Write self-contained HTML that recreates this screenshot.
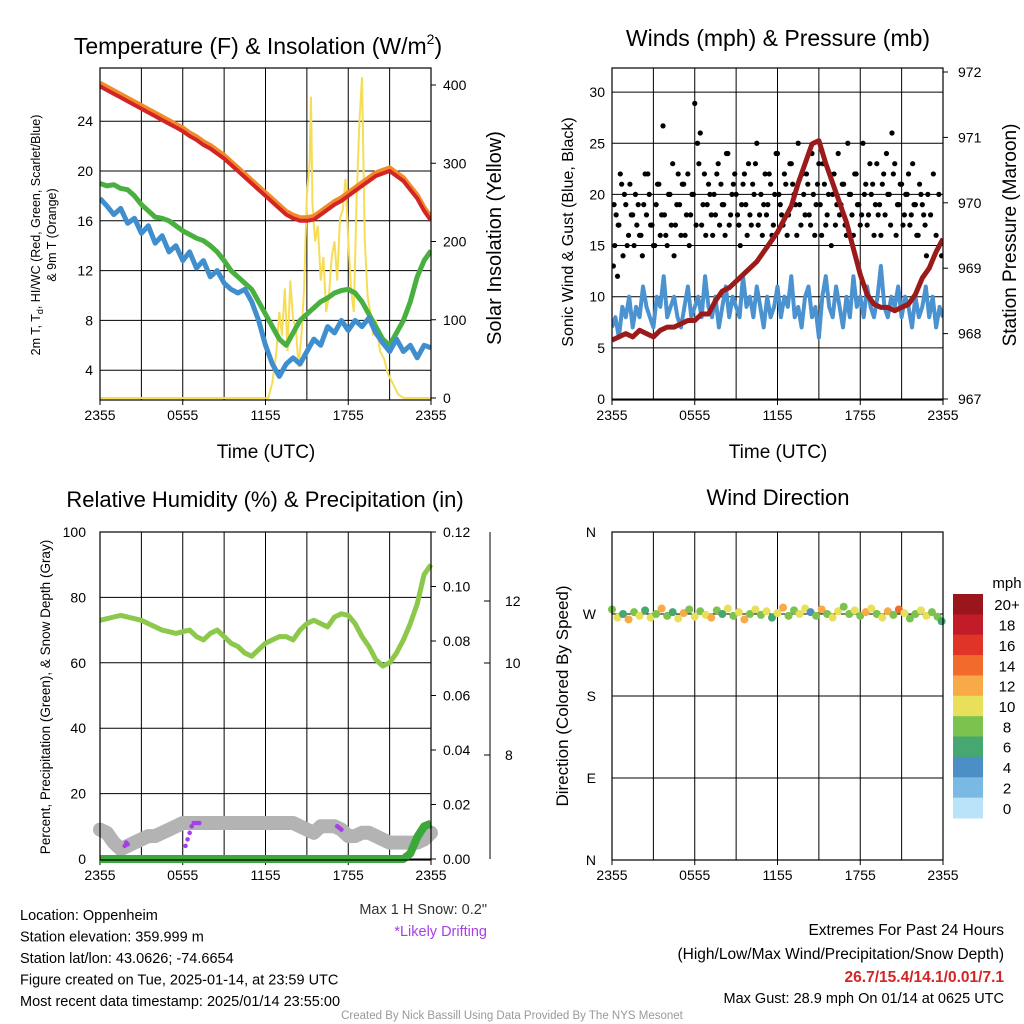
<!DOCTYPE html>
<html><head><meta charset="utf-8"><style>
body{margin:0;background:#fff}
svg{font-family:"Liberation Sans",Arial,sans-serif;display:block}
</style></head><body>
<svg id="c" width="1024" height="1024" viewBox="0 0 1024 1024">
<rect width="1024" height="1024" fill="#fff"/>
</svg>
<script>
// ---------- data ----------
const timeLabels=['2355','0555','1155','1755','2355'];
const tempRed=[26.8,26.5,26.2,25.9,25.6,25.3,25.0,24.7,24.4,24.1,23.8,23.5,23.2,22.8,22.5,22.1,21.8,21.4,21.0,20.5,20.0,19.5,19.0,18.5,18.0,17.5,17.0,16.5,16.2,16.0,16.0,16.1,16.5,16.9,17.3,17.6,18.0,18.4,18.8,19.2,19.6,19.8,20.0,19.6,19.2,18.5,17.8,16.8,16.0];
const tempGreen=[19,18.8,18.9,18.6,18.5,18.0,17.3,16.8,16.3,16.2,16.0,15.6,15.2,14.9,14.6,14.4,14.0,13.5,12.8,12.0,11.5,11.0,10.5,9.5,8.5,7.5,6.5,6.0,7.0,8.0,8.5,9.0,9.5,9.8,10.2,10.4,10.5,10.2,9.5,8.5,7.5,6.5,6.0,7.0,8.0,9.5,11.5,12.8,13.6];
const tempBlue=[17.8,17.2,16.5,17.0,15.8,16.2,15.0,15.6,14.2,14.8,13.5,14.0,12.8,13.5,12.2,12.8,11.5,12.0,11.0,10.5,10.2,10.5,9.5,8.0,6.0,4.5,3.5,4.5,5.0,4.5,5.5,6.5,6.0,7.5,7.0,8.0,7.2,8.0,7.5,8.2,7.0,6.2,5.5,6.5,5.5,6.0,5.0,6.0,5.8];
const solarHours=[0,12.2,12.5,12.8,13.0,13.2,13.4,13.6,13.8,14.0,14.2,14.4,14.6,14.8,15.0,15.2,15.3,15.4,15.6,15.8,16.0,16.2,16.4,16.6,16.8,17.0,17.2,17.4,17.6,17.8,18.0,18.2,18.4,18.6,18.8,19.0,19.2,19.4,19.6,19.8,20.0,20.3,20.6,20.9,21.2,21.6,22.0,24];
const solarVals=[0,0,20,60,110,80,140,60,150,100,90,40,80,140,260,300,385,250,200,220,150,180,110,130,180,200,150,230,240,280,200,140,110,250,350,410,200,130,110,80,100,60,50,30,20,5,0,0];
const tempTicks=[4,8,12,16,20,24];
const solarTicks=[0,100,200,300,400];

const windVals=[7,8,6,9,8,10,7,9,8,11,9,8,7,10,9,12,8,9,10,8,7,9,11,8,9,10,8,12,9,8,10,7,9,11,8,10,9,8,12,9,10,8,11,9,7,10,8,9,11,8,10,9,12,8,9,7,10,11,8,9,6,10,12,9,8,11,9,7,10,8,12,9,10,8,11,9,8,10,13,9,8,10,9,11,8,10,9,7,10,8,9,11,8,10,7,9,8];
const pressVals=[967.9,967.95,968.0,967.95,968.05,968.0,967.95,968.05,968.1,968.1,968.15,968.2,968.2,968.3,968.3,968.5,968.65,968.7,968.8,968.9,969.0,969.1,969.25,969.4,969.55,969.75,969.95,970.3,970.6,970.9,970.95,970.6,970.3,970.0,969.7,969.3,968.9,968.6,968.45,968.4,968.4,968.35,968.4,968.45,968.6,968.85,969.0,969.25,969.45];
const gustHours=[0.1,0.2,0.3,0.4,0.5,0.6,0.8,0.9,1.0,1.2,1.3,1.5,1.6,1.8,1.9,2.1,2.2,2.4,2.5,2.7,2.9,3.0,3.2,3.3,3.5,3.7,3.8,4.0,4.2,4.3,4.5,4.7,4.8,5.0,5.2,5.4,5.6,5.8,6.0,6.2,6.4,6.5,6.7,6.9,7.1,7.3,7.5,7.7,7.9,8.1,8.3,8.5,8.7,8.9,9.1,9.3,9.5,9.7,9.9,10.1,10.3,10.5,10.7,10.9,11.1,11.3,11.5,11.7,11.9,12.1,12.3,12.5,12.7,12.9,13.1,13.3,13.5,13.7,13.9,14.1,14.3,14.5,14.7,14.9,15.1,15.3,15.5,15.7,15.9,16.1,16.3,16.5,16.7,16.9,17.1,17.3,17.5,17.7,17.9,18.1,18.3,18.5,18.7,18.9,19.1,19.3,19.5,19.7,19.9,20.1,20.3,20.5,20.7,20.9,21.1,21.3,21.5,21.7,21.9,22.1,22.3,22.5,22.7,22.9,23.1,23.3,23.5,23.7,23.9,
0.15,0.45,0.7,1.1,1.4,1.7,2.0,2.3,2.6,2.8,3.1,3.4,3.6,3.9,4.1,4.4,4.6,4.9,5.1,5.3,5.5,5.7,5.9,6.1,6.3,6.6,6.8,7.0,7.2,7.4,7.6,7.8,8.0,8.2,8.4,8.6,8.8,9.0,9.2,9.4,9.6,9.8,10.0,10.2,10.4,10.6,10.8,11.0,11.2,11.4,11.6,11.8,12.0,12.2,12.4,12.6,12.8,13.0,13.2,13.4,13.6,13.8,14.0,14.2,14.4,14.6,14.8,15.0,15.2,15.4,15.6,15.8,16.0,16.2,16.4,16.6,16.8,17.0,17.2,17.4,17.6,17.8,18.0,18.2,18.4,18.6,18.8,19.0,19.2,19.4,19.6,19.8,20.0,20.2,20.4,20.6,20.8,21.0,21.2,21.4,21.6,21.8,22.0,22.2,22.4,22.6,22.8,23.0,23.2,23.4,23.6,23.8];
const gustVals=[13,15,18,12,17,22,14,20,19,16,21,18,15,17,19,16,14,22,18,20,17,15,19,21,16,26.7,18,15,20,17,14,19,22,16,21,18,15,20,28.9,25,26,17,22,19,20,16,18,23,21,19,24,17,20,22,18,15,21,19,23,17,20,25,18,16,22,19,21,17,24,20,18,22,16,23,21,19,25,17,20,22,18,24,16,21,19,23,17,20,15,22,19,18,21,17,25,20,16,22,19,18,20,17,23,21,19,18,16,22,24,20,26,23,19,21,17,20,22,18,19,16,21,19,17,20,18,22,
16,20,14,19,17,21,15,18,20,16,19,22,17,15,21,18,16,20,23,17,19,21,16,22,18,20,17,23,19,16,21,18,20,22,17,19,16,24,18,21,20,17,19,22,16,18,21,23,17,20,19,18,22,16,20,24,19,17,21,18,23,20,16,19,22,18,21,17,20,19,23,16,21,18,22,20,17,24,19,21,16,20,18,22,19,17,25,21,18,20,16,23,19,21,18,20,17,22,16,19,21,18,20,17,23,19,16,20,18,14];
const windTicks=[0,5,10,15,20,25,30];
const pressTicks=[967,968,969,970,971,972];

const rhVals=[73,73.5,74,74.5,74,73.5,73,72,71,70,69.5,69,69.5,70,68,67,69,70,68,66,65,63,62,64,66,67,68,68,67,70,72,73,72,71,74,75,74.5,72,68,65,61,59,60,63,67,72,78,87,90];
const snowVals=[9,8,5,3,4,5,6,7,7,8,9,10,11,11,11,11,11,11,11,11,11,11,11,11,11,11,11,11,11,10,9,8,10,10,10,9,7,7,8,8,7,6,5,5,5,5,5,6,8];
const precipVals=[0,0,0,0,0,0,0,0,0,0,0,0,0,0,0,0,0,0,0,0,0,0,0,0,0,0,0,0,0,0,0,0,0,0,0,0,0,0,0,0,0,0,0,0,0,0.002,0.008,0.012,0.013];
const driftHours=[1.8,1.9,2.0,6.2,6.35,6.5,6.65,6.8,7.0,7.2,17.2,17.35,17.5];
const driftVals=[4,5,4.5,4,6,8,10,11,11,11,10,9.5,9];
const rhTicks=[0,20,40,60,80,100];
const precipTicks=[0,0.02,0.04,0.06,0.08,0.10,0.12];
const snowTickLabels=['8','10','12'];

const dirHours=[0,0.4,0.8,1.2,1.6,2.0,2.4,2.8,3.2,3.6,4.0,4.4,4.8,5.2,5.6,6.0,6.4,6.8,7.2,7.6,8.0,8.4,8.8,9.2,9.6,10.0,10.4,10.8,11.2,11.6,12.0,12.4,12.8,13.2,13.6,14.0,14.4,14.8,15.2,15.6,16.0,16.4,16.8,17.2,17.6,18.0,18.4,18.8,19.2,19.6,20.0,20.4,20.8,21.2,21.6,22.0,22.4,22.8,23.2,23.6,23.9];
const dirVals=[275,266,270,264,272,268,274,266,270,276,268,272,265,271,275,267,273,269,266,274,270,276,268,272,264,270,275,269,273,266,271,277,268,274,270,276,272,268,275,270,266,273,278,270,274,268,272,276,270,266,273,269,275,271,265,270,274,268,272,267,262];
const dirSpeeds=[8,10,7,12,9,11,6,10,8,13,9,7,10,12,8,11,9,10,13,8,7,11,9,10,12,8,10,9,11,7,10,12,9,8,11,10,4,9,12,8,10,11,9,8,10,9,12,11,8,10,13,9,14,10,8,9,11,10,8,9,7];
const dirLabels=['N','E','S','W','N'];
const cbLabels=['20+','18','16','14','12','10','8','6','4','2','0'];
const cbColors=['#9a161d','#c11c27','#e03428','#f26a2c','#f9aa48','#e8e05a','#7cc24e','#47a771','#4b8fc6','#7ab9e4','#b8e3f8'];

// ---------- helpers ----------
const svg=document.getElementById('c');
const NS='http://www.w3.org/2000/svg';
function mk(tag,attrs,parent){const e=document.createElementNS(NS,tag);for(const k in attrs)e.setAttribute(k,attrs[k]);(parent||svg).appendChild(e);return e;}
function txt(s,x,y,size,anchor,extra){const t=mk('text',Object.assign({x:x,y:y,'font-size':size,'text-anchor':anchor||'middle',fill:'#000'},extra||{}));t.textContent=s;return t;}
function pathFrom(vals,xf,yf){let d='';const n=vals.length;for(let i=0;i<n;i++){d+=(i?'L':'M')+xf(i*24/(n-1)).toFixed(1)+' '+yf(vals[i]).toFixed(1);}return d;}
function pathXY(hs,vs,xf,yf){let d='';const n=Math.min(hs.length,vs.length);for(let i=0;i<n;i++){d+=(i?'L':'M')+xf(hs[i]).toFixed(1)+' '+yf(vs[i]).toFixed(1);}return d;}
function frame(x0,y0,x1,y1,xf,name){
  const g=mk('g',{});
  for(let h=3;h<24;h+=3)mk('line',{x1:xf(h),x2:xf(h),y1:y0,y2:y1,stroke:'#000','stroke-width':1},g);
  const tg=mk('g',{});
  timeLabels.forEach((l,i)=>{const h=i*6;const t=txt(l,xf(h),y1+20,14,'middle');tg.appendChild(t);mk('line',{x1:xf(h),x2:xf(h),y1:y1,y2:y1+5,stroke:'#000'},tg);});
}
function box(x0,y0,x1,y1,name){const r=mk('rect',{x:x0,y:y0,width:x1-x0,height:y1-y0,fill:'none',stroke:'#000','stroke-width':1.2});}

// ---------- panel 1 ----------
{
const X0=100,X1=431,Y0=68,Y1=400;
const xs=h=>X0+h*(X1-X0)/24, yT=t=>420-12.45*t, yI=v=>398-v*0.7825;
frame(X0,Y0,X1,Y1,xs,'temp-panel');
tempTicks.forEach(t=>{mk('line',{x1:X0,x2:X1,y1:yT(t),y2:yT(t),stroke:'#000'});const e=txt(String(t),93,yT(t)+5,14,'end');});
solarTicks.forEach(v=>{mk('line',{x1:X1,x2:X1+5,y1:yI(v),y2:yI(v),stroke:'#000'});const e=txt(String(v),443,yI(v)+5,14,'start');});
const cp=mk('clipPath',{id:'cp1'});mk('rect',{x:X0,y:Y0,width:X1-X0,height:Y1-Y0},cp);
const g=mk('g',{'clip-path':'url(#cp1)'});
let p;
p=mk('path',{d:pathXY(solarHours,solarVals,xs,yI),fill:'none',stroke:'#f7dd55','stroke-width':2},g);
p=mk('path',{d:pathFrom(tempGreen,xs,yT),fill:'none',stroke:'#49b040','stroke-width':5,'stroke-linejoin':'round'},g);
p=mk('path',{d:pathFrom(tempBlue,xs,yT),fill:'none',stroke:'#3f8fcf','stroke-width':5,'stroke-linejoin':'round'},g);
p=mk('path',{d:pathFrom(tempRed.map(v=>v+0.25),xs,yT),fill:'none',stroke:'#f28a2a','stroke-width':5},g);
p=mk('path',{d:pathFrom(tempRed,xs,yT),fill:'none',stroke:'#d42525','stroke-width':4},g);
box(X0,Y0,X1,Y1,'temp-panel');
let t=txt('Temperature (F) & Insolation (W/m',258,54,23,'middle');
const ts=mk('tspan',{'font-size':14,dy:-10},t);ts.textContent='2';const ts2=mk('tspan',{dy:10},t);ts2.textContent=')';
t=txt('Time (UTC)',266,458,19);
t=txt('2m T, T',0,0,12.5,'middle',{transform:'translate(40,235) rotate(-90)'});
const sub=mk('tspan',{'font-size':9,dy:3},t);sub.textContent='d';const r2=mk('tspan',{dy:-3},t);r2.textContent=', HI/WC (Red, Green, Scarlet/Blue)';
t=txt('& 9m T (Orange)',0,0,12.5,'middle',{transform:'translate(56,235) rotate(-90)'});
t=txt('Solar Insolation (Yellow)',0,0,20,'middle',{transform:'translate(501,238) rotate(-90)'});
}

// ---------- panel 2 ----------
{
const X0=612,X1=943,Y0=68,Y1=400;
const xs=h=>X0+h*(X1-X0)/24, yW=v=>399-v*10.23, yP=p=>399-(p-967)*65.4;
frame(X0,Y0,X1,Y1,xs,'wind-panel');
windTicks.forEach(v=>{mk('line',{x1:X0,x2:X1,y1:yW(v),y2:yW(v),stroke:'#000'});const e=txt(String(v),605,yW(v)+5,14,'end');});
pressTicks.forEach(v=>{mk('line',{x1:X1,x2:X1+5,y1:yP(v),y2:yP(v),stroke:'#000'});const e=txt(String(v),958,yP(v)+5,14,'start');});
const cp=mk('clipPath',{id:'cp2'});mk('rect',{x:X0,y:Y0,width:X1-X0,height:Y1-Y0},cp);
const g=mk('g',{'clip-path':'url(#cp2)'});
let p=mk('path',{d:pathFrom(windVals,xs,yW),fill:'none',stroke:'#4a92d0','stroke-width':4,'stroke-linejoin':'round'},g);
const n=Math.min(gustHours.length,gustVals.length);
for(let i=0;i<n;i++){const c=mk('circle',{cx:xs(gustHours[i]),cy:yW(gustVals[i]),r:2.6,fill:'#000'},g);

}
p=mk('path',{d:pathFrom(pressVals,xs,yP),fill:'none',stroke:'#9b1b1b','stroke-width':5,'stroke-linejoin':'round'},g);
box(X0,Y0,X1,Y1,'wind-panel');
let t=txt('Winds (mph) & Pressure (mb)',778,46,23);
t=txt('Time (UTC)',778,458,19);
t=txt('Sonic Wind & Gust (Blue, Black)',0,0,16,'middle',{transform:'translate(573,232) rotate(-90)'});
t=txt('Station Pressure (Maroon)',0,0,19,'middle',{transform:'translate(1016,235) rotate(-90)'});
}

// ---------- panel 3 ----------
{
const X0=100,X1=431,Y0=532,Y1=860;
const xs=h=>X0+h*(X1-X0)/24, yR=v=>859-v*3.27, yPr=v=>859-v/0.12*327;
frame(X0,Y0,X1,Y1,xs,'rh-panel');
rhTicks.forEach(v=>{mk('line',{x1:X0,x2:X1,y1:yR(v),y2:yR(v),stroke:'#000'});const e=txt(String(v),86,yR(v)+5,14,'end');});
precipTicks.forEach(v=>{mk('line',{x1:X1,x2:X1+5,y1:yPr(v),y2:yPr(v),stroke:'#000'});const e=txt(v.toFixed(2),443,yPr(v)+5,14,'start');});
mk('line',{x1:490,x2:490,y1:532,y2:859,stroke:'#000'});
const snowY=[755,663,601];
snowTickLabels.forEach((l,i)=>{mk('line',{x1:484,x2:490,y1:snowY[i],y2:snowY[i],stroke:'#000'});const e=txt(l,505,snowY[i]+5,14,'start');});
const cp=mk('clipPath',{id:'cp3'});mk('rect',{x:X0-8,y:Y0,width:X1-X0+16,height:Y1-Y0+8},cp);
const g=mk('g',{'clip-path':'url(#cp3)'});
let p=mk('path',{d:pathFrom(snowVals,xs,yR),fill:'none',stroke:'#b3b3b3','stroke-width':14,'stroke-linejoin':'round','stroke-linecap':'round'},g);
p=mk('path',{d:pathFrom(rhVals,xs,yR),fill:'none',stroke:'#8cc84b','stroke-width':5,'stroke-linejoin':'round'},g);
p=mk('path',{d:pathFrom(precipVals,xs,yPr),fill:'none',stroke:'#3aa83a','stroke-width':8,'stroke-linejoin':'round'},g);
for(let i=0;i<Math.min(driftHours.length,driftVals.length);i++){const c=mk('circle',{cx:xs(driftHours[i]),cy:yR(driftVals[i]),r:2.3,fill:'#a83ee8'},g);

}
box(X0,Y0,X1,Y1,'rh-panel');
let t=txt('Relative Humidity (%) & Precipitation (in)',265,507,22);
t=txt('Percent, Precipitation (Green), & Snow Depth (Gray)',0,0,13.5,'middle',{transform:'translate(50,697) rotate(-90)'});
}

// ---------- panel 4 ----------
{
const X0=612,X1=943,Y0=532,Y1=860;
const xs=h=>X0+h*(X1-X0)/24, yD=d=>860-d*(328/360);
frame(X0,Y0,X1,Y1,xs,'direction-panel');
dirLabels.forEach((l,i)=>{const y=yD(i*90);mk('line',{x1:X0,x2:X1,y1:y,y2:y,stroke:'#000'});const e=txt(l,596,y+5,14,'end');});
const colorFor=s=>cbColors[10-Math.min(10,Math.floor(s/2))];
const n=Math.min(dirHours.length,dirVals.length,dirSpeeds.length);
for(let i=0;i<n;i++){const c=mk('circle',{cx:xs(dirHours[i]),cy:yD(dirVals[i]),r:4,fill:colorFor(dirSpeeds[i])});

}
box(X0,Y0,X1,Y1,'direction-panel');
let t=txt('Wind Direction',778,505,22);
t=txt('Direction (Colored By Speed)',0,0,17,'middle',{transform:'translate(568,696) rotate(-90)'});
const cg=mk('g',{});
const bh=224/11;
cbColors.forEach((c,i)=>{mk('rect',{x:953,y:594+i*bh,width:30,height:bh+0.5,fill:c},cg);const e=txt(cbLabels[i],1007,594+i*bh+bh/2+6,15,'middle');cg.appendChild(e);});
const mp=txt('mph',1007,588,15,'middle');
}

// ---------- footer text ----------
const leftLines=['Location: Oppenheim','Station elevation: 359.999 m','Station lat/lon: 43.0626; -74.6654','Figure created on Tue, 2025-01-14, at 23:59 UTC','Most recent data timestamp: 2025/01/14 23:55:00'];
leftLines.forEach((l,i)=>{const e=txt(l,20,920+i*21.5,14.5,'start');});
let e=txt('Max 1 H Snow: 0.2"',487,914,14.5,'end',{fill:'#333'});
e=txt('*Likely Drifting',487,936,14.5,'end',{fill:'#a83ee8'});
e=txt('Extremes For Past 24 Hours',1004,935,15.5,'end');
e=txt('(High/Low/Max Wind/Precipitation/Snow Depth)',1004,959,15.5,'end');
e=txt('26.7/15.4/14.1/0.01/7.1',1004,982,15.5,'end',{fill:'#d42525','font-weight':'bold'});
e=txt('Max Gust: 28.9 mph On 01/14 at 0625 UTC',1004,1003,14.5,'end');
e=txt('Created By Nick Bassill Using Data Provided By The NYS Mesonet',512,1019,11.5,'middle',{fill:'#999'});
</script>
</body></html>
